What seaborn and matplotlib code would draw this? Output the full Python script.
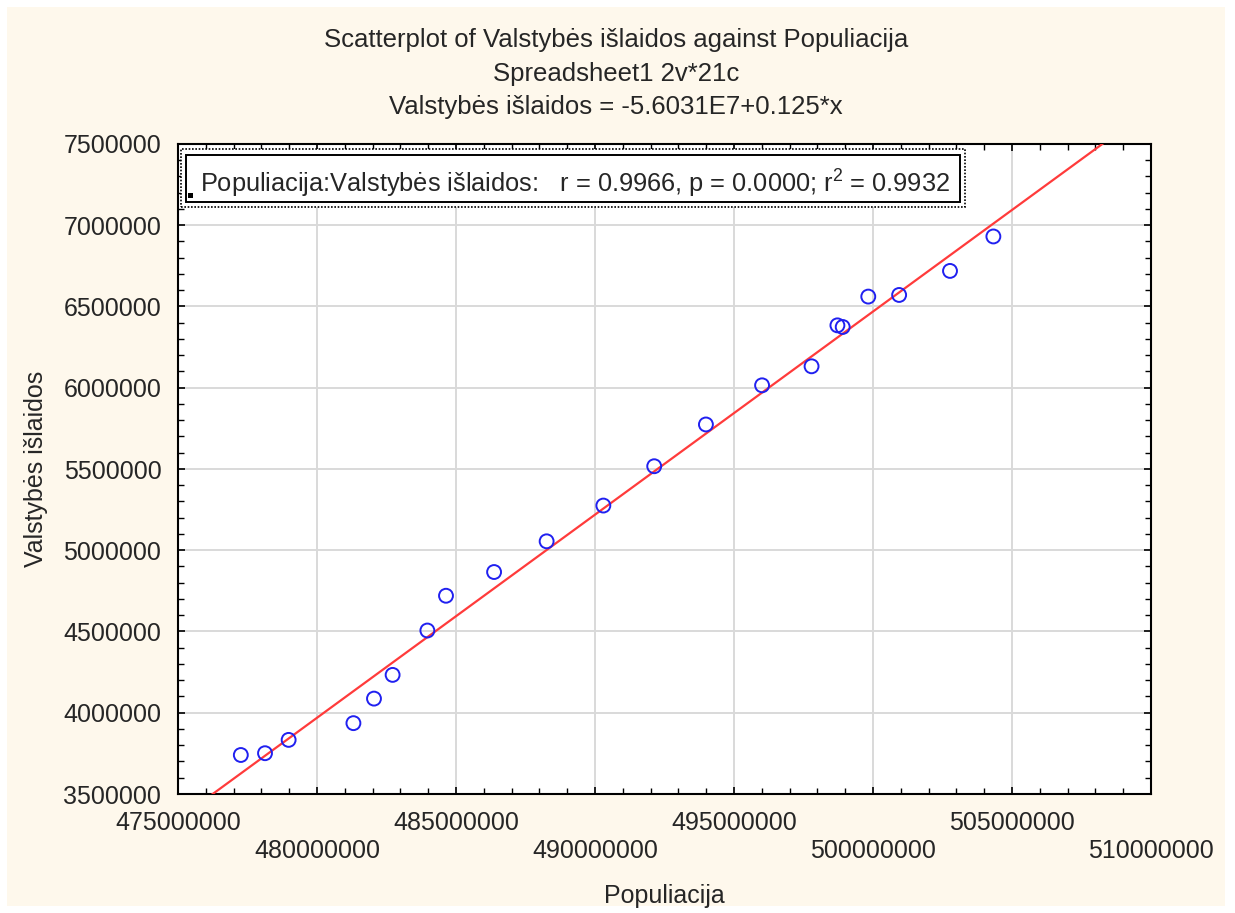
import matplotlib
matplotlib.use("Agg")
import matplotlib.pyplot as plt
from matplotlib.patches import Rectangle
from matplotlib.ticker import FixedLocator, MultipleLocator
import seaborn as sns
import pandas as pd
import numpy as np

# Population (x) and government expenditure (y), 21 cases
populiacija = [477.26e6, 478.13e6, 478.98e6, 481.31e6, 482.05e6, 482.72e6, 483.97e6,
               484.64e6, 486.37e6, 488.26e6, 490.30e6, 492.13e6, 493.99e6, 496.01e6,
               497.79e6, 498.72e6, 498.91e6, 499.83e6, 500.94e6, 502.77e6, 504.33e6]
islaidos = [3.740e6, 3.751e6, 3.833e6, 3.936e6, 4.087e6, 4.233e6, 4.506e6,
            4.720e6, 4.866e6, 5.055e6, 5.275e6, 5.517e6, 5.774e6, 6.015e6,
            6.132e6, 6.384e6, 6.374e6, 6.561e6, 6.571e6, 6.719e6, 6.931e6]

# Fitted regression line
intercept = -5.6031e7
slope = 0.125

x_ticks = [475000000, 480000000, 485000000, 490000000, 495000000,
           500000000, 505000000, 510000000]
y_ticks = [3500000, 4000000, 4500000, 5000000, 5500000, 6000000, 6500000,
           7000000, 7500000]

title_lines = ["Scatterplot of Valstybės išlaidos against Populiacija",
               "Spreadsheet1 2v*21c",
               "Valstybės išlaidos = -5.6031E7+0.125*x"]
stats_text = "Populiacija:Valstybės išlaidos:   r = 0.9966, p = 0.0000; r$^2$ = 0.9932"

sns.set_theme(style="ticks")
plt.rcParams["font.family"] = ["Liberation Sans", "DejaVu Sans"]
plt.rcParams["mathtext.fontset"] = "custom"
plt.rcParams["mathtext.rm"] = "Liberation Sans"
plt.rcParams["mathtext.it"] = "Liberation Sans"

W, H = 1235, 913
fig = plt.figure(figsize=(W / 100, H / 100), dpi=100, facecolor="white")
fig.patches.append(Rectangle((7 / W, 7 / H), (1225 - 7) / W, (906 - 7) / H,
                             transform=fig.transFigure, facecolor="#FEF8EC",
                             edgecolor="none", zorder=-10))

ax = fig.add_axes([178 / W, 1 - 794 / H, (1151 - 178) / W, (794 - 144) / H])
ax.set_facecolor("white")

df = pd.DataFrame({"Populiacija": populiacija, "Valstybės išlaidos": islaidos})

xs = np.array([x_ticks[0], x_ticks[-1]], dtype=float)
line_df = pd.DataFrame({"x": xs, "y": intercept + slope * xs})
sns.lineplot(data=line_df, x="x", y="y", ax=ax, color="#FF3B3B", lw=1.6, zorder=3)

sns.scatterplot(data=df, x="Populiacija", y="Valstybės išlaidos", ax=ax,
                marker="o", s=100, facecolor="none", edgecolor="#2020F0",
                linewidth=1.4, zorder=4)

ax.set_xlim(x_ticks[0], x_ticks[-1])
ax.set_ylim(y_ticks[0], y_ticks[-1])

ax.xaxis.set_major_locator(FixedLocator(x_ticks))
ax.yaxis.set_major_locator(FixedLocator(y_ticks))
ax.xaxis.set_minor_locator(MultipleLocator(1000000))
ax.yaxis.set_minor_locator(MultipleLocator(100000))
ax.set_xticklabels([("" if i % 2 == 0 else "\n") + str(v) for i, v in enumerate(x_ticks)],
                   fontsize=18, linespacing=1.25)
ax.set_yticklabels([str(v) for v in y_ticks], fontsize=18)

ax.tick_params(which="both", direction="in", top=True, right=True, color="black")
ax.tick_params(which="major", length=5, width=1.2)
ax.tick_params(which="minor", length=4, width=1.0)
ax.tick_params(axis="x", which="major", pad=12)
ax.tick_params(axis="y", which="major", pad=12)

ax.grid(True, which="major", color="#D9D9D9", lw=1.4)
ax.set_axisbelow(True)
for s in ax.spines.values():
    s.set_color("black")
    s.set_linewidth(1.5)

ax.set_xlabel("Populiacija", fontsize=18, labelpad=15)
ax.set_ylabel("Valstybės išlaidos", fontsize=18, labelpad=11)

for i, t in enumerate(title_lines):
    fig.text(616 / W, 1 - (40 + 33.5 * i) / H, t, ha="center", va="center",
             fontsize=18.5)

# Correlation box in the upper left of the plot
def px_to_fig(x0, y0, x1, y1):
    return (x0 / W, 1 - y1 / H, (x1 - x0) / W, (y1 - y0) / H)

bx = px_to_fig(181, 149, 965, 207)
fig.patches.append(Rectangle(bx[:2], bx[2], bx[3], transform=fig.transFigure,
                             facecolor="white", edgecolor="black", lw=1.2,
                             linestyle=(0, (1, 1)), zorder=5))
bi = px_to_fig(186, 155, 960, 202)
fig.patches.append(Rectangle(bi[:2], bi[2], bi[3], transform=fig.transFigure,
                             facecolor="white", edgecolor="black", lw=1.4, zorder=6))
sq = px_to_fig(188, 193, 193, 198)
fig.patches.append(Rectangle(sq[:2], sq[2], sq[3], transform=fig.transFigure,
                             facecolor="black", edgecolor="none", zorder=7))
fig.text(200 / W, 1 - 184 / H, stats_text, ha="left", va="center", fontsize=18.3,
         zorder=8)

fig.savefig("out.png", dpi=100, facecolor=fig.get_facecolor())
